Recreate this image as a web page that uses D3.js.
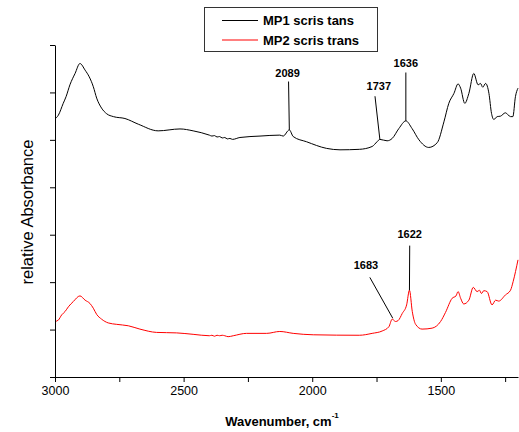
<!DOCTYPE html>
<html>
<head>
<meta charset="utf-8">
<script src="https://cdn.jsdelivr.net/npm/d3@7"></script>
<style>
  html, body { margin: 0; padding: 0; background: #fff; }
  svg { display: block; font-family: "Liberation Sans", Arial, sans-serif; }
</style>
</head>
<body>
<svg id="chart" width="519" height="432"></svg>
<script>
// ---- data ----
const seriesNames = ["MP1 scris tans", "MP2 scris trans"];

const mp1Wavenumber = [3000, 2987, 2968, 2957, 2942, 2922, 2903, 2883, 2867, 2851, 2838, 2819, 2799, 2773, 2728, 2676, 2599, 2514, 2463, 2400,
  2390, 2380, 2370, 2360, 2350, 2340, 2330, 2320, 2310, 2281, 2203, 2126, 2113, 2089, 2074, 2022, 1944, 1892, 1817, 1767, 1748, 1737,
  1709, 1689, 1663, 1636, 1612, 1585, 1547, 1514, 1488, 1469, 1449, 1433, 1423, 1407, 1391, 1372, 1355, 1346, 1337, 1326, 1313, 1303,
  1294, 1281, 1268, 1249, 1229, 1220, 1210, 1200];
const mp1Absorbance = [5.44, 5.52, 5.77, 5.91, 6.16, 6.40, 6.61, 6.47, 6.33, 6.12, 5.88, 5.67, 5.55, 5.49, 5.45, 5.33, 5.19, 5.23, 5.19, 5.10,
  5.08, 5.09, 5.06, 5.07, 5.04, 5.05, 5.02, 5.03, 5.01, 5.05, 5.08, 5.10, 5.08, 5.21, 5.07, 4.96, 4.82, 4.79, 4.80, 4.86, 4.96, 5.01,
  4.98, 5.03, 5.24, 5.40, 5.24, 5.00, 4.84, 4.94, 5.38, 5.77, 5.98, 6.18, 6.09, 5.77, 5.98, 6.40, 6.16, 6.19, 6.11, 6.19, 5.98, 5.56,
  5.43, 5.49, 5.50, 5.57, 5.49, 5.49, 5.91, 6.09];

const mp2Wavenumber = [3000, 2987, 2974, 2961, 2948, 2929, 2903, 2883, 2864, 2851, 2838, 2819, 2793, 2760, 2715, 2670, 2605, 2527, 2463, 2400,
  2390, 2380, 2370, 2360, 2350, 2340, 2327, 2307, 2255, 2177, 2126, 2074, 1996, 1817, 1767, 1728, 1702, 1689, 1676, 1666, 1650, 1633,
  1622, 1611, 1598, 1573, 1534, 1501, 1482, 1456, 1441, 1433, 1423, 1411, 1391, 1374, 1359, 1350, 1342, 1333, 1320, 1301, 1287, 1275,
  1249, 1229, 1219, 1200];
const mp2Absorbance = [1.17, 1.20, 1.31, 1.38, 1.48, 1.59, 1.71, 1.62, 1.55, 1.45, 1.32, 1.22, 1.14, 1.11, 1.08, 1.01, 0.94, 0.93, 0.90, 0.87,
  0.88, 0.86, 0.88, 0.87, 0.88, 0.87, 0.85, 0.87, 0.92, 0.92, 0.96, 0.92, 0.89, 0.88, 0.92, 0.97, 1.06, 1.22, 1.17, 1.19, 1.34, 1.52,
  1.83, 1.38, 1.11, 1.01, 1.03, 1.17, 1.36, 1.66, 1.71, 1.80, 1.66, 1.54, 1.62, 1.89, 1.80, 1.83, 1.76, 1.82, 1.80, 1.52, 1.62, 1.60,
  1.73, 1.83, 2.01, 2.47];

const xTickValues = [3000, 2750, 2500, 2250, 2000, 1750, 1500, 1250];
const xTickLabels = ["3000", "", "2500", "", "2000", "", "1500", ""];
const yTickValues = [0, 1, 2, 3, 4, 5, 6, 7];

// peak annotations: label, peak point, leader top point, label anchor
const peakLabels   = ["2089", "1737", "1636", "1683", "1622"];
const peakWn       = [2089, 1737, 1636, 1687, 1622];
const peakVal      = [5.21, 5.01, 5.40, 1.24, 1.83];
const leaderTopWn  = [2092, 1756, 1636, 1776, 1621];
const leaderTopVal = [6.23, 5.92, 6.42, 2.10, 2.77];
const labelWn      = [2096, 1741, 1636, 1791, 1621];
const labelVal     = [6.33, 6.05, 6.53, 2.28, 2.94];

// ---- chart ----
const svg = d3.select("#chart");
const margin = { left: 55, right: 1, top: 45, bottom: 55 };
const W = 519, H = 432;

const x = d3.scaleLinear().domain([3000, 1200]).range([margin.left, W - margin.right]);
const y = d3.scaleLinear().domain([0, 7]).range([H - margin.bottom, margin.top]);

const line = d3.line()
  .x(d => x(d[0]))
  .y(d => y(d[1]))
  .curve(d3.curveMonotoneX);

const mp1 = d3.zip(mp1Wavenumber, mp1Absorbance);
const mp2 = d3.zip(mp2Wavenumber, mp2Absorbance);

svg.append("path").datum(mp1)
  .attr("d", line).attr("fill", "none").attr("stroke", "#000").attr("stroke-width", 1);
svg.append("path").datum(mp2)
  .attr("d", line).attr("fill", "none").attr("stroke", "#ff0000").attr("stroke-width", 1);

// axes
const xAxis = d3.axisBottom(x)
  .tickValues(xTickValues)
  .tickFormat((d, i) => xTickLabels[i])
  .tickSizeInner(5).tickSizeOuter(0).tickPadding(4);
const gx = svg.append("g").attr("transform", `translate(0,${y(0)})`).call(xAxis);
gx.select(".domain").attr("stroke", "#000");
gx.selectAll("text").attr("font-size", "12.5px").attr("fill", "#000")
  .attr("font-family", "Liberation Sans, Arial, sans-serif");

const yAxis = d3.axisLeft(y)
  .tickValues(yTickValues)
  .tickFormat("")
  .tickSizeInner(5).tickSizeOuter(0);
const gy = svg.append("g").attr("transform", `translate(${x(3000)},0)`).call(yAxis);
gy.select(".domain").attr("stroke", "#000");

// axis titles
const xt = svg.append("text")
  .attr("x", 282).attr("y", 426)
  .attr("text-anchor", "middle")
  .attr("font-size", "13px").attr("font-weight", "bold").attr("fill", "#000");
xt.append("tspan").text("Wavenumber, cm");
xt.append("tspan").attr("dy", -8).attr("font-size", "8px").text("-1");

svg.append("text")
  .attr("transform", `translate(33,${(y(0) + y(7)) / 2 + 1}) rotate(-90)`)
  .attr("text-anchor", "middle")
  .attr("font-size", "16.5px").attr("fill", "#000")
  .text("relative Absorbance");

// annotations
peakLabels.forEach((lab, i) => {
  svg.append("line")
    .attr("x1", x(peakWn[i])).attr("y1", y(peakVal[i]))
    .attr("x2", x(leaderTopWn[i])).attr("y2", y(leaderTopVal[i]))
    .attr("stroke", "#000").attr("stroke-width", 1);
  svg.append("text")
    .attr("x", x(labelWn[i])).attr("y", y(labelVal[i]))
    .attr("text-anchor", "middle")
    .attr("font-size", "11px").attr("font-weight", "bold").attr("fill", "#000")
    .text(lab);
});

// legend
const legend = svg.append("g");
legend.append("rect")
  .attr("x", 204.5).attr("y", 7.5).attr("width", 173).attr("height", 44)
  .attr("fill", "#fff").attr("stroke", "#333").attr("stroke-width", 1);
const legendColors = ["#000", "#ff0000"];
seriesNames.forEach((name, i) => {
  const cy = 20.5 + i * 19.5;
  legend.append("line")
    .attr("x1", 222).attr("x2", 258).attr("y1", cy).attr("y2", cy)
    .attr("stroke", legendColors[i]).attr("stroke-width", 1);
  legend.append("text")
    .attr("x", 263).attr("y", cy + 4.8)
    .attr("font-size", "13px").attr("font-weight", "bold").attr("fill", "#000")
    .text(name);
});
</script>
</body>
</html>
